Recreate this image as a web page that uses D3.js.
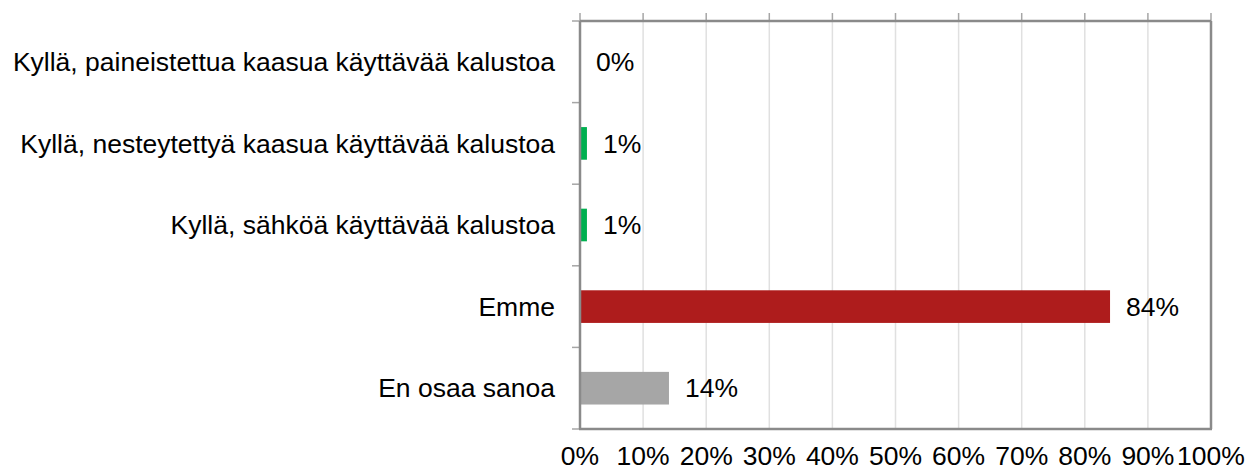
<!DOCTYPE html>
<html><head><meta charset="utf-8">
<script src="https://cdn.jsdelivr.net/npm/d3@7"></script>
<style>body{margin:0;background:#fff}svg{display:block}text{font-family:"Liberation Sans",Arial,sans-serif;fill:#000}</style>
</head><body><svg id="c" width="1247" height="471"></svg>
<script>
const categories = ["Kyllä, paineistettua kaasua käyttävää kalustoa","Kyllä, nesteytettyä kaasua käyttävää kalustoa","Kyllä, sähköä käyttävää kalustoa","Emme","En osaa sanoa"];
const values = [0, 1.1, 1.1, 84.0, 14.1];
const valueLabels = ["0%","1%","1%","84%","14%"];
const colors = ["#00B050","#00B050","#00B050","#AE1C1C","#A6A6A6"];
const xTicks = [0,10,20,30,40,50,60,70,80,90,100];

const svg = d3.select("#c");
const L = 580, R = 1211, T = 21, B = 429;
const x = d3.scaleLinear().domain([0,100]).range([L,R]);
const y = d3.scaleBand().domain(categories).range([T,B]).paddingInner(0.6).paddingOuter(0.3);
const band = d3.scaleBand().domain(categories).range([T,B]);
const fs = 26.5;

// gridlines
svg.append("g").selectAll("line").data(xTicks.slice(1,-1)).join("line")
  .attr("x1",d=>x(d)).attr("x2",d=>x(d)).attr("y1",T).attr("y2",B)
  .attr("stroke","#e0e0e0").attr("stroke-width",1.5);
// top tick marks
svg.append("g").selectAll("line").data(xTicks).join("line")
  .attr("x1",d=>x(d)).attr("x2",d=>x(d)).attr("y1",T-8).attr("y2",T)
  .attr("stroke","#a6a6a6").attr("stroke-width",1.5);
// left tick marks at band boundaries
const bounds = categories.map(c=>band(c)).concat([B]);
svg.append("g").selectAll("line").data(bounds).join("line")
  .attr("x1",L-8).attr("x2",L).attr("y1",d=>d).attr("y2",d=>d)
  .attr("stroke","#a6a6a6").attr("stroke-width",1.5);
// bars
svg.append("g").selectAll("rect").data(values).join("rect")
  .attr("x",L).attr("y",(d,i)=>y(categories[i]))
  .attr("width",d=>x(d)-L).attr("height",y.bandwidth())
  .attr("fill",(d,i)=>colors[i]);
// frame
svg.append("line").attr("x1",L).attr("x2",R).attr("y1",T).attr("y2",T).attr("stroke","#8a8a8a").attr("stroke-width",2.5);
svg.append("line").attr("x1",R).attr("x2",R).attr("y1",T).attr("y2",B).attr("stroke","#8a8a8a").attr("stroke-width",2.5);
svg.append("line").attr("x1",L).attr("x2",L).attr("y1",T).attr("y2",B).attr("stroke","#8a8a8a").attr("stroke-width",2.5);
svg.append("line").attr("x1",L-1).attr("x2",R+1).attr("y1",B).attr("y2",B).attr("stroke","#8a8a8a").attr("stroke-width",2.5);
// category labels
svg.append("g").selectAll("text").data(categories).join("text")
  .attr("x",L-25).attr("y",d=>band(d)+band.bandwidth()/2).attr("dy","0.35em")
  .attr("text-anchor","end").attr("font-size",fs).text(d=>d);
// value labels
svg.append("g").selectAll("text").data(values).join("text")
  .attr("x",d=>x(d)+16).attr("y",(d,i)=>band(categories[i])+band.bandwidth()/2).attr("dy","0.35em")
  .attr("font-size",fs).text((d,i)=>valueLabels[i]);
// x tick labels
svg.append("g").selectAll("text").data(xTicks).join("text")
  .attr("x",d=>x(d)).attr("y",465).attr("text-anchor","middle")
  .attr("font-size",fs).text(d=>d+"%");
</script></body></html>
